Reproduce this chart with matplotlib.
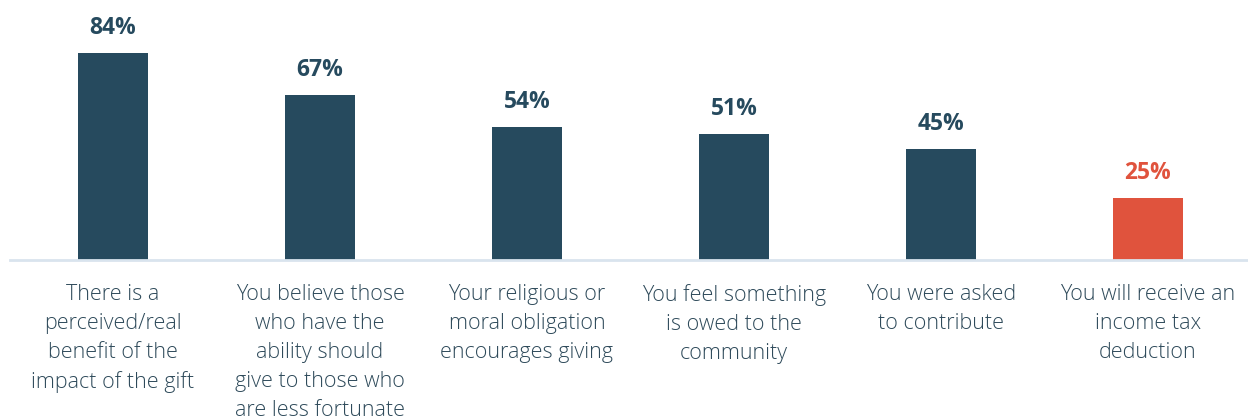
import matplotlib.pyplot as plt

categories = [
    "There is a\nperceived/real\nbenefit of the\nimpact of the gift",
    "You believe those\nwho have the\nability should\ngive to those who\nare less fortunate",
    "Your religious or\nmoral obligation\nencourages giving",
    "You feel something\nis owed to the\ncommunity",
    "You were asked\nto contribute",
    "You will receive an\nincome tax\ndeduction",
]
values = [84, 67, 54, 51, 45, 25]
labels = ["84%", "67%", "54%", "51%", "45%", "25%"]

DARK = "#264a5e"
RED = "#e0533d"
colors = [DARK, DARK, DARK, DARK, DARK, RED]

plt.rcParams['font.family'] = ['Open Sans', 'DejaVu Sans']

fig = plt.figure(figsize=(12.48, 4.17), dpi=100)
ax = fig.add_axes([9.5 / 1248, 157 / 417, 1242 / 1248, 246.4 / 417])

x = list(range(len(values)))
ax.bar(x, values, width=0.34, color=colors)

for i, v in enumerate(values):
    ax.annotate(labels[i], (i, v), xytext=(0, 18), textcoords="offset points",
                ha="center", va="center", fontsize=16.5, fontweight="bold",
                color=colors[i])

ax.set_xlim(-0.5, len(values) - 0.5)
ax.set_ylim(0, 100)
ax.set_xticks(x)
ax.set_xticklabels(categories, fontsize=15.5, color="#2e4a5a", linespacing=1.5,
                   fontweight="light")
ax.tick_params(axis="x", length=0, pad=17)
ax.set_yticks([])

for s in ["top", "right", "left"]:
    ax.spines[s].set_visible(False)
ax.spines["bottom"].set_color("#d9e4ee")
ax.spines["bottom"].set_linewidth(2)

fig.savefig("out.png", dpi=100)
